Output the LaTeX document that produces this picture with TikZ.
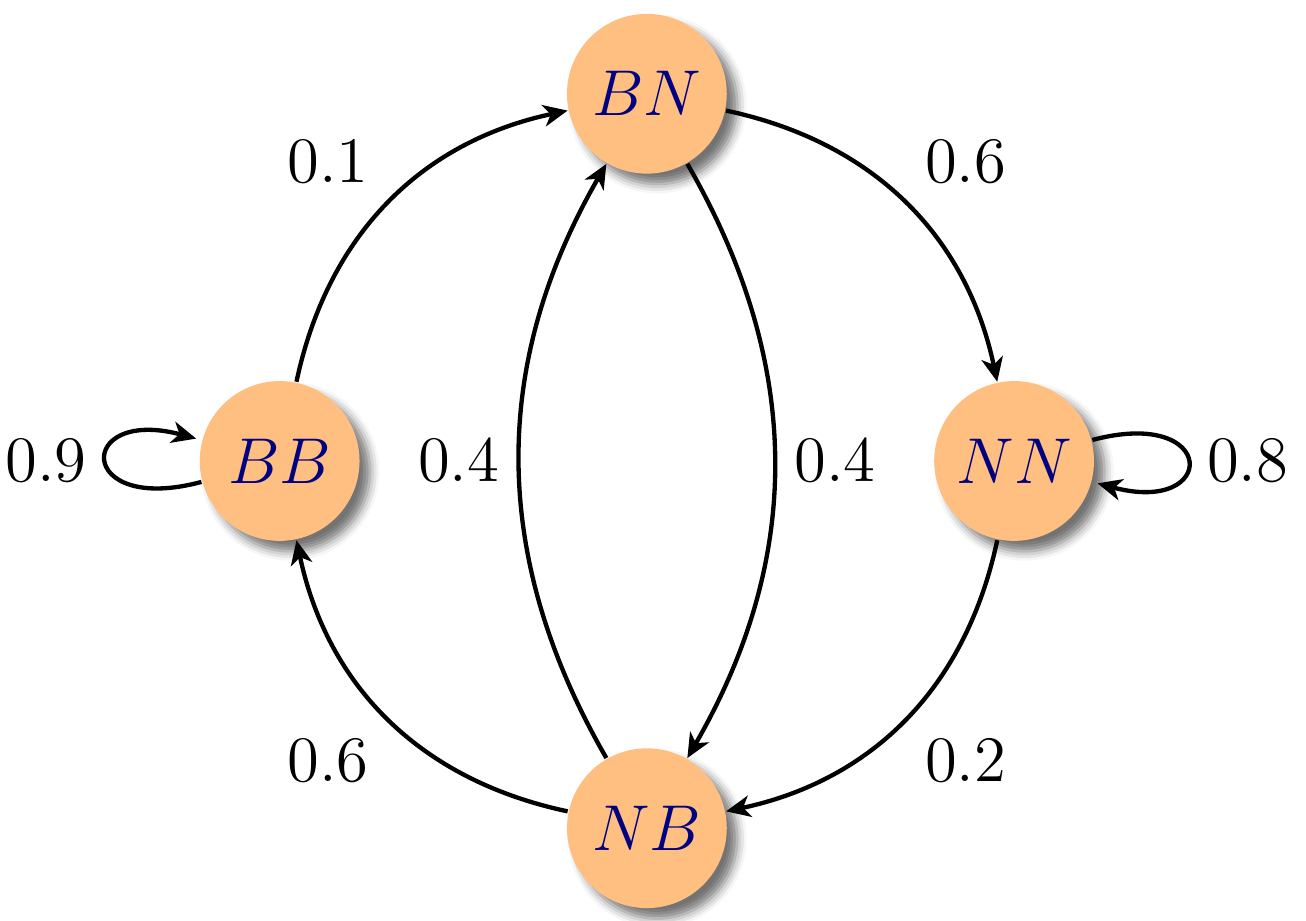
\documentclass[tikz,border=0pt]{standalone}
\usetikzlibrary{positioning,shadows.blur,arrows.meta}

\begin{document}
\begin{tikzpicture}[
  on grid,
  node distance=2.39cm and 2.39cm,
  >={Stealth[length=4.5pt,width=4pt,inset=1.3pt]},
  every node/.style={font=\large},
  state/.style={circle, fill=orange!50, text=blue!50!black,
    minimum size=1.04cm, inner sep=0pt,
    blur shadow={shadow opacity=55, shadow xshift=.45ex, shadow yshift=-.45ex}},
  every edge/.style={draw, ->, thick}]
\useasboundingbox (-4.21,-2.99) rectangle (4.29,3.0);
\node[state] (BN) at (0,2.39) {$BN$};
\node[state, below left=of BN] (BB) {$BB$};
\node[state, below right=of BN] (NN) {$NN$};
\node[state, below right=of BB] (NB) {$NB$};

\path (BB) edge[bend left=33] node[above left] {$0.1$} (BN)
      (BN) edge[bend left=33] node[above right] {$0.6$} (NN)
      (NN) edge[bend left=33] node[below right] {$0.2$} (NB)
      (NB) edge[bend left=33] node[below left] {$0.6$} (BB)
      (NB) edge[bend left=30] node[left] {$0.4$} (BN)
      (BN) edge[bend left=30] node[right] {$0.4$} (NB)
      (BB) edge[loop left] node[left] {$0.9$} ()
      (NN) edge[loop right] node[right] {$0.8$} ();
\end{tikzpicture}
\end{document}
